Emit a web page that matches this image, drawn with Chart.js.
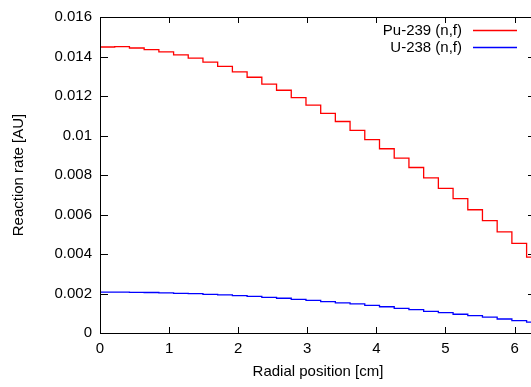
<!DOCTYPE html>
<html>
<head>
<meta charset="utf-8">
<script src="https://cdn.jsdelivr.net/npm/chart.js@4/dist/chart.umd.min.js"></script>
<style>
  html, body { margin: 0; padding: 0; background: #fff; overflow: hidden; }
  #wrap { width: 551px; height: 387px; }
</style>
</head>
<body>
<div id="wrap"><canvas id="chart" width="551" height="387"></canvas></div>
<script>
// ring edges of the radial mesh [cm] (30 rings)
const radiusEdges = [0.000, 0.213, 0.426, 0.639, 0.852, 1.065, 1.277, 1.490, 1.703, 1.916,
                     2.129, 2.342, 2.555, 2.768, 2.981, 3.194, 3.406, 3.619, 3.832, 4.045,
                     4.258, 4.471, 4.684, 4.897, 5.110, 5.323, 5.535, 5.748, 5.961, 6.174, 6.387];

const pu239Rate = [0.01448, 0.01450, 0.01443, 0.01435, 0.01423, 0.01408, 0.01392, 0.01372, 0.01350, 0.01322,
                   0.01295, 0.01260, 0.01229, 0.01192, 0.01154, 0.01112, 0.01071, 0.01026, 0.00979, 0.00933,
                   0.00885, 0.00838, 0.00785, 0.00732, 0.00680, 0.00624, 0.00569, 0.00512, 0.00454, 0.00384];

const u238Rate = [0.00207, 0.00207, 0.00206, 0.00205, 0.00203, 0.00201, 0.00199, 0.00196, 0.00193, 0.00189,
                  0.00185, 0.00180, 0.00176, 0.00170, 0.00165, 0.00159, 0.00153, 0.00147, 0.00140, 0.00133,
                  0.00125, 0.00118, 0.00110, 0.00103, 0.00095, 0.00088, 0.00080, 0.00071, 0.00063, 0.00055];

const seriesNames = ['Pu-239 (n,f)', 'U-238 (n,f)'];
const seriesColors = ['#ff0000', '#0000ff'];

const FONT = '"Liberation Sans", Arial, sans-serif';

// step points: one per left edge, last edge repeats the last value
function steps(rates) {
    return radiusEdges.map((x, i) => ({x: x, y: rates[Math.min(i, rates.length - 1)]}));
}

// gnuplot style box, inward ticks and key
const gnuFrame = {
    id: 'gnuFrame',
    afterDatasetsDraw(chart) {
        const ctx = chart.ctx;
        const a = chart.chartArea;
        const xs = chart.scales.x, ys = chart.scales.y;
        ctx.save();
        ctx.strokeStyle = '#000';
        ctx.lineWidth = 1;
        ctx.beginPath();
        xs.ticks.forEach(t => {
            const px = Math.round(xs.getPixelForValue(t.value)) + 0.5;
            ctx.moveTo(px, a.bottom); ctx.lineTo(px, a.bottom - 6);
            ctx.moveTo(px, a.top); ctx.lineTo(px, a.top + 6);
        });
        ys.ticks.forEach(t => {
            const py = Math.round(ys.getPixelForValue(t.value)) + 0.5;
            ctx.moveTo(a.left, py); ctx.lineTo(a.left + 8, py);
            ctx.moveTo(a.right, py); ctx.lineTo(a.right - 8, py);
        });
        ctx.stroke();
        ctx.strokeRect(Math.round(a.left) + 0.5, Math.round(a.top) + 0.5,
                       Math.round(a.right - a.left), Math.round(a.bottom - a.top));

        // key, top right
        ctx.font = '15px ' + FONT;
        ctx.textAlign = 'right';
        ctx.textBaseline = 'middle';
        chart.data.datasets.forEach((ds, i) => {
            const yy = a.top + 13.5 + i * 17;
            ctx.fillStyle = '#000';
            ctx.fillText(ds.label, a.right - 74, yy);
            ctx.strokeStyle = ds.borderColor;
            ctx.lineWidth = 1.3;
            ctx.beginPath();
            ctx.moveTo(a.right - 63, yy);
            ctx.lineTo(a.right - 19, yy);
            ctx.stroke();
        });
        ctx.restore();
    }
};

const config = {
    type: 'line',
    data: {
        datasets: [
            { label: seriesNames[0], data: steps(pu239Rate), borderColor: seriesColors[0], borderWidth: 1.3,
              stepped: 'before', pointRadius: 0, fill: false },
            { label: seriesNames[1], data: steps(u238Rate), borderColor: seriesColors[1], borderWidth: 1.3,
              stepped: 'before', pointRadius: 0, fill: false }
        ]
    },
    options: {
        responsive: false,
        animation: false,
        devicePixelRatio: 1,
        layout: { padding: { left: 0, top: 12, right: 15, bottom: 0 } },
        plugins: {
            legend: { display: false },
            tooltip: { enabled: false }
        },
        scales: {
            x: {
                type: 'linear',
                min: 0,
                max: 6.31,
                grid: { display: false, drawTicks: false },
                border: { display: false },
                ticks: {
                    stepSize: 1,
                    includeBounds: false,
                    padding: 7,
                    color: '#000',
                    maxRotation: 0,
                    font: { family: FONT, size: 15 }
                },
                title: {
                    display: true,
                    text: 'Radial position [cm]',
                    color: '#000',
                    font: { family: FONT, size: 15 },
                    padding: { top: 0, bottom: 6 }
                },
                afterFit: s => { s.height = 54; }
            },
            y: {
                min: 0,
                max: 0.016,
                grid: { display: false, drawTicks: false },
                border: { display: false },
                ticks: {
                    stepSize: 0.002,
                    padding: 8,
                    color: '#000',
                    font: { family: FONT, size: 15 },
                    callback: v => String(parseFloat(v.toFixed(6)))
                },
                title: {
                    display: true,
                    text: 'Reaction rate [AU]',
                    color: '#000',
                    font: { family: FONT, size: 15 },
                    padding: { top: 10, bottom: 0 }
                },
                afterFit: s => { s.width = 100; }
            }
        }
    },
    plugins: [gnuFrame]
};

new Chart(document.getElementById('chart'), config);
</script>
</body>
</html>
